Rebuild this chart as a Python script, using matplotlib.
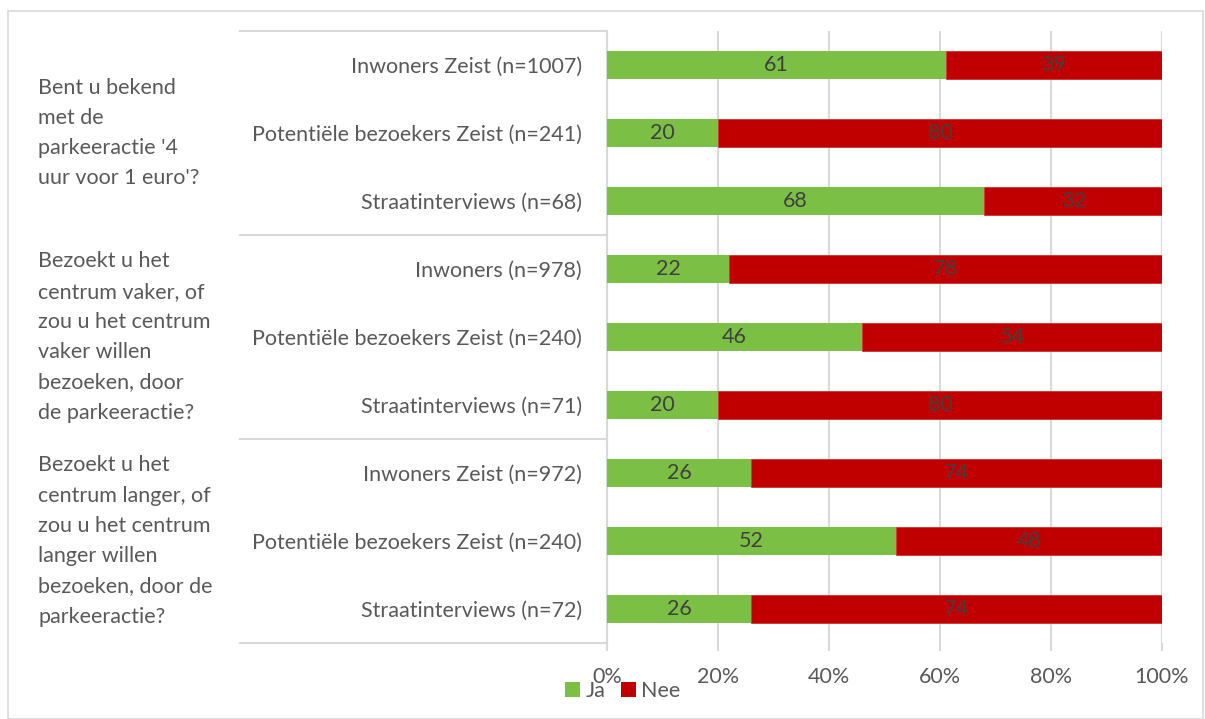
import matplotlib
matplotlib.use("Agg")
import matplotlib.pyplot as plt
from matplotlib.patches import Rectangle, Patch
from matplotlib.lines import Line2D
import matplotlib.transforms as mtransforms

plt.rcParams['font.family'] = ['Lato', 'DejaVu Sans']

# Survey groups and respondent categories
questions = [
    "Bent u bekend\nmet de\nparkeeractie '4\nuur voor 1 euro'?",
    "Bezoekt u het\ncentrum vaker, of\nzou u het centrum\nvaker willen\nbezoeken, door\nde parkeeractie?",
    "Bezoekt u het\ncentrum langer, of\nzou u het centrum\nlanger willen\nbezoeken, door de\nparkeeractie?",
]
categories = [
    "Inwoners Zeist (n=1007)",
    "Potentiële bezoekers Zeist (n=241)",
    "Straatinterviews (n=68)",
    "Inwoners (n=978)",
    "Potentiële bezoekers Zeist (n=240)",
    "Straatinterviews (n=71)",
    "Inwoners Zeist (n=972)",
    "Potentiële bezoekers Zeist (n=240)",
    "Straatinterviews (n=72)",
]
ja = [61, 20, 68, 22, 46, 20, 26, 52, 26]
nee = [39, 80, 32, 78, 54, 80, 74, 48, 74]
xticks = [0, 20, 40, 60, 80, 100]
xtick_labels = ["0%", "20%", "40%", "60%", "80%", "100%"]

GREEN = "#7BBF45"
RED = "#C00000"
GRID = "#D9D9D9"
TEXT = "#595959"
LABEL = "#404040"
FS = 15.5

W, H = 1205, 719
fig = plt.figure(figsize=(W / 100, H / 100), dpi=100)
ax = fig.add_axes([607 / W, 1 - 643 / H, 555 / W, 612 / H])

ypos = list(range(len(categories)))
ax.barh(ypos, ja, height=0.4, color=GREEN, zorder=3)
ax.barh(ypos, nee, left=ja, height=0.4, color=RED, edgecolor="#D03030",
        linewidth=0.6, zorder=3)

for y, a, b in zip(ypos, ja, nee):
    ax.text(a / 2, y, f"{a}", ha="center", va="center", color=LABEL,
            fontsize=FS, zorder=4)
    ax.text(a + b / 2, y, f"{b}", ha="center", va="center", color=LABEL,
            fontsize=FS, zorder=4)

ax.set_xlim(0, 100)
ax.set_ylim(len(categories) - 0.5, -0.5)
ax.set_xticks(xticks)
ax.set_xticklabels(xtick_labels, color=TEXT, fontsize=FS)
ax.tick_params(axis="x", length=6, color=GRID, width=1.5, pad=11)
ax.xaxis.grid(True, color=GRID, linewidth=1.5, zorder=0)
ax.set_yticks(ypos)
ax.set_yticklabels(categories, color=TEXT, fontsize=FS)
ax.tick_params(axis="y", length=0, pad=18)
for s in ["top", "right", "bottom"]:
    ax.spines[s].set_visible(False)
ax.spines["left"].set_color(GRID)
ax.spines["left"].set_linewidth(1.5)

# Multi-level category axis: separator lines between question groups
trans = mtransforms.blended_transform_factory(ax.transAxes, ax.transData)
x_left = (240 - 607) / 555
for yb in [-0.5, 2.5, 5.5, 8.5]:
    ax.add_line(Line2D([x_left, 0], [yb, yb], transform=trans, color=GRID,
                       linewidth=1.5, clip_on=False))

for i, q in enumerate(questions):
    yc = 3 * i + 1
    ax.text(38 / W, yc, q, transform=mtransforms.blended_transform_factory(
        fig.transFigure, ax.transData), ha="left", va="center",
        color=TEXT, fontsize=FS, linespacing=1.64)

handles = [Patch(facecolor=GREEN), Patch(facecolor=RED)]
fig.legend(handles, ["Ja", "Nee"], loc="center left",
           bbox_to_anchor=(546 / W, 1 - 691 / H), ncol=2, frameon=False,
           handlelength=0.7, handleheight=0.7, handletextpad=0.25,
           columnspacing=0.7, labelcolor=TEXT, fontsize=FS)

fig.add_artist(Rectangle((8 / W, 0), (1203 - 8) / W, 1 - 11 / H,
                         transform=fig.transFigure, fill=False,
                         edgecolor=GRID, linewidth=1.2))

fig.savefig("out.png", dpi=100, facecolor="white")
